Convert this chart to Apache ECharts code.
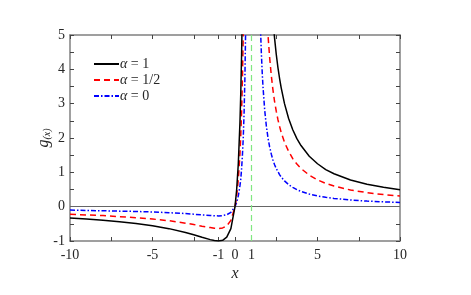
<!DOCTYPE html>
<html><head><meta charset="utf-8">
<script src="https://cdn.jsdelivr.net/npm/echarts@6/dist/echarts.min.js"></script>
<style>html,body{margin:0;padding:0;background:#fff}#c{width:471px;height:295px}</style>
</head><body><div id="c"></div>
<script>
// x samples for the branch left of the pole and the branch right of it
const xLeft = [-10,-9,-8,-7,-6,-5,-4,-3,-2.5,-2,-1.5,-1.25,-1,-0.75,-0.5,-0.25,0,0.1,0.2,0.3,0.35,0.4,0.45,0.5,0.55,0.6,0.65,0.7];
const xRight = [1.3,1.4,1.5,1.55,1.6,1.65,1.7,1.8,1.9,2,2.1,2.2,2.3,2.4,2.5,2.6,2.7,2.8,3,3.25,3.5,3.75,4,4.5,5,5.5,6,7,8,9,10];

// alpha = 1 (black)
const a1Left = [-0.331,-0.36,-0.395,-0.4375,-0.49,-0.556,-0.64,-0.75,-0.816,-0.889,-0.96,-0.988,-1,-0.98,-0.889,-0.64,0,0.494,1.25,2.449,3.31,4.44,5.95,8,10.9,15,21.2,31.1];
const a1Right = [57.8,35,24,20.6,17.8,15.6,13.9,11.25,9.38,8,6.94,6.11,5.44,4.90,4.44,4.06,3.74,3.46,3,2.57,2.24,1.98,1.78,1.47,1.25,1.08,0.96,0.778,0.653,0.5625,0.494];

// alpha = 1/2 (red)
const a2Left = [-0.22,-0.24,-0.26,-0.29,-0.32,-0.36,-0.41,-0.48,-0.52,-0.57,-0.61,-0.63,-0.64,-0.62,-0.56,-0.40,0,0.309,0.781,1.531,2.07,2.78,3.72,5.0,6.79,9.4,13.3,19.4];
const a2Right = [36.1,21.9,15,12.8,11.1,9.7,8.67,7.03,5.86,5,4.34,3.82,3.40,3.06,2.78,2.54,2.34,2.16,1.875,1.61,1.4,1.24,1.11,0.918,0.781,0.679,0.6,0.486,0.408,0.352,0.309];

// alpha = 0 (blue)
const a0Left = [-0.1,-0.11,-0.12,-0.13,-0.14,-0.155,-0.175,-0.2,-0.22,-0.24,-0.255,-0.265,-0.27,-0.26,-0.235,-0.165,0,0.123,0.3125,0.612,0.8,1.11,1.5,2.0,2.72,3.75,5.31,7.78];
const a0Right = [14.4,8.75,6,5.12,4.44,3.9,3.47,2.81,2.35,2,1.74,1.53,1.36,1.22,1.11,1.02,0.935,0.864,0.75,0.644,0.56,0.496,0.444,0.367,0.3125,0.272,0.24,0.194,0.163,0.141,0.123];

const seriesNames = ['α = 1','α = 1/2','α = 0'];
const xTickVals = [-10,-7.5,-5,-2.5,-1,0,1,2.5,5,7.5,10];
const xLabelVals = [-10,-5,-1,0,1,5,10];
const yTickVals = [-1,-0.5,0,0.5,1,1.5,2,2.5,3,3.5,4,4.5,5];
const yLabelVals = [-1,0,1,2,3,4,5];
const poleX = 1;

function pairs(xs, ys){ return xs.map((x,i)=>[x, ys[i]]); }
function branches(l, r){ return pairs(xLeft,l).concat([[poleX,null]], pairs(xRight,r)); }

const FONT = 'Times New Roman, Liberation Serif, serif';
const axisCol = '#808080';
const txtCol = '#262626';

const chart = echarts.init(document.getElementById('c'), null, {renderer:'canvas'});
const baseX = {
  type:'value', min:-10, max:10,
  axisLine:{show:true, onZero:false, lineStyle:{color:axisCol, width:1.5}},
  splitLine:{show:false},
  axisTick:{show:true, inside:true, length:4, customValues:xTickVals, lineStyle:{color:'#444', width:1}},
};
const baseY = {
  type:'value', min:-1, max:5,
  axisLine:{show:true, onZero:false, lineStyle:{color:axisCol, width:1.5}},
  splitLine:{show:false},
  axisTick:{show:true, inside:true, length:4, customValues:yTickVals, lineStyle:{color:'#444', width:1}},
};
chart.setOption({
  animation:false,
  grid:{left:70, right:71, top:35, bottom:54},
  legend:{
    left:93, top:57, padding:0, orient:'vertical', itemGap:2, itemWidth:25, itemHeight:12,
    itemStyle:{opacity:0},
    formatter:function(n){ return '{a|α}' + n.slice(1); },
    textStyle:{fontFamily:FONT, fontSize:14, lineHeight:12, color:txtCol, padding:[0,0,0,-4],
      rich:{a:{fontFamily:FONT, fontSize:14, lineHeight:12, fontStyle:'italic', color:txtCol}}},
    data:seriesNames
  },
  xAxis:[
    Object.assign({}, baseX, {position:'bottom',
      name:'x', nameLocation:'middle', nameGap:25, nameMoveOverlap:false,
      nameTextStyle:{fontFamily:FONT, fontSize:16, fontStyle:'italic', color:txtCol},
      axisLabel:{show:true, customValues:xLabelVals, margin:7, fontFamily:FONT, fontSize:14, color:txtCol}}),
    Object.assign({}, baseX, {position:'top', axisLabel:{show:false}})
  ],
  yAxis:[
    Object.assign({}, baseY, {position:'left',
      name:'{g|g}{s|(x)}', nameLocation:'middle', nameGap:18, nameRotate:90, nameMoveOverlap:false,
      nameTextStyle:{rich:{g:{fontFamily:FONT, fontSize:16, fontStyle:'italic', color:txtCol},
                           s:{fontFamily:FONT, fontSize:10, fontStyle:'italic', color:txtCol, verticalAlign:'bottom', padding:[6,0,0,0]}}},
      axisLabel:{show:true, customValues:yLabelVals, margin:5, fontFamily:FONT, fontSize:14, color:txtCol}}),
    Object.assign({}, baseY, {position:'right', axisLabel:{show:false}})
  ],
  series:[
    {name:seriesNames[0], type:'line', data:branches(a1Left,a1Right), showSymbol:false, symbol:'circle', symbolSize:0, clip:true, connectNulls:false,
     lineStyle:{color:'#000', width:1.5, type:'solid'}, itemStyle:{color:'#000'}, z:5,
     markLine:{silent:true, symbol:'none', label:{show:false}, animation:false,
       data:[{yAxis:0, lineStyle:{color:'#666', width:1, type:'solid'}},
             {xAxis:poleX, lineStyle:{color:'#80e880', width:1.2, type:[6,4]}}]}},
    {name:seriesNames[1], type:'line', data:branches(a2Left,a2Right), showSymbol:false, symbol:'circle', symbolSize:0, clip:true, connectNulls:false,
     lineStyle:{color:'#ff0000', width:1.5, type:[6,4]}, itemStyle:{color:'#ff0000'}, z:4},
    {name:seriesNames[2], type:'line', data:branches(a0Left,a0Right), showSymbol:false, symbol:'circle', symbolSize:0, clip:true, connectNulls:false,
     lineStyle:{color:'#0000ff', width:1.5, type:[5,2,1.5,2]}, itemStyle:{color:'#0000ff'}, z:3}
  ]
});
</script></body></html>
